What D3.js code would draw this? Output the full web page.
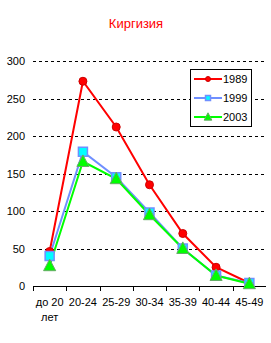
<!DOCTYPE html>
<html><head><meta charset="utf-8">
<script src="https://cdn.jsdelivr.net/npm/d3@7"></script>
<style>body{margin:0;background:#fff}svg{display:block}</style>
</head><body>
<script>
const categories = ["до 20 лет","20-24","25-29","30-34","35-39","40-44","45-49"];
const s1989 = [46, 273, 212, 135, 70, 25, 4];
const s1999 = [40, 179, 145, 98, 50, 14, 4];
const s2003 = [27, 166, 143, 95, 50, 14, 3];
const yTicks = [0, 50, 100, 150, 200, 250, 300];
const title = "Киргизия";

const W = 271, H = 343;
const svg = d3.select("body").append("svg").attr("width", W).attr("height", H);
const font = "Arial, 'Liberation Sans', sans-serif";

const x = d3.scaleBand().domain(categories).range([33, 266]);
const y = d3.scaleLinear().domain([0, 300]).range([286, 61]);

svg.append("text").attr("x", 136).attr("y", 28).attr("text-anchor", "middle")
  .attr("font-family", font).attr("font-size", 13).attr("fill", "#ff0000").text(title);

svg.append("g").selectAll("line").data(yTicks.filter(d => d > 0)).join("line")
  .attr("x1", 33).attr("x2", 266).attr("y1", d => Math.round(y(d)) + 0.5).attr("y2", d => Math.round(y(d)) + 0.5)
  .attr("stroke", "#000").attr("stroke-dasharray", "3,3").attr("stroke-width", 1);

svg.append("g").selectAll("text").data(yTicks).join("text")
  .attr("x", 25).attr("y", d => y(d) + 4).attr("text-anchor", "end")
  .attr("font-family", font).attr("font-size", 11).attr("fill", "#000").text(d => d);

const xa = svg.append("g");
xa.append("line").attr("x1", 33).attr("x2", 266).attr("y1", 286.5).attr("y2", 286.5).attr("stroke", "#000");
const edges = categories.map(c => x(c));
xa.selectAll("line.t").data(edges).join("line").attr("class", "t")
  .attr("x1", d => Math.round(d) + 0.5).attr("x2", d => Math.round(d) + 0.5)
  .attr("y1", 286).attr("y2", 291).attr("stroke", "#000");
xa.selectAll("text").data(categories).join("text")
  .attr("x", d => x(d) + x.bandwidth() / 2).attr("y", 306).attr("text-anchor", "middle")
  .attr("font-family", font).attr("font-size", 11).attr("fill", "#000")
  .each(function(d) {
    const parts = d === "до 20 лет" ? ["до 20", "лет"] : [d];
    const t = d3.select(this);
    parts.forEach((p, i) => t.append("tspan").attr("x", x(d) + x.bandwidth() / 2).attr("dy", i ? 15 : 0).text(p));
  });

const cx = (d, i) => x(categories[i]) + x.bandwidth() / 2;
const series = [
  {name: "1989", data: s1989, color: "#ff0000", mfill: "#ff0000", mstroke: "#cc0000", shape: "circle"},
  {name: "1999", data: s1999, color: "#6f8fff", mfill: "#00ffff", mstroke: "#6f8fff", shape: "square"},
  {name: "2003", data: s2003, color: "#00ff00", mfill: "#00ff00", mstroke: "#66aa66", shape: "triangle"}
];
const line = d3.line().x(cx).y(d => y(d));

function marker(g, shape, s, fill, stroke) {
  if (shape === "circle") g.append("circle").attr("r", s * 0.5).attr("fill", fill).attr("stroke", stroke);
  else if (shape === "square") g.append("rect").attr("x", -s/2).attr("y", -s/2).attr("width", s).attr("height", s).attr("fill", fill).attr("stroke", stroke).attr("stroke-width", 1.5);
  else g.append("path").attr("d", `M0,${-s*0.6}L${s*0.55},${s*0.45}L${-s*0.55},${s*0.45}Z`).attr("fill", fill).attr("stroke", stroke);
}

series.forEach(sr => {
  svg.append("path").datum(sr.data).attr("d", line).attr("fill", "none")
    .attr("stroke", sr.color).attr("stroke-width", 2);
});
series.forEach(sr => {
  const s = sr.shape === "circle" ? 8 : sr.shape === "square" ? 9 : 11;
  sr.data.forEach((d, i) => {
    const g = svg.append("g").attr("transform", `translate(${cx(d, i)},${y(d)})`);
    marker(g, sr.shape, s, sr.mfill, sr.mstroke);
  });
});

const lg = svg.append("g");
lg.append("rect").attr("x", 190.5).attr("y", 69.5).attr("width", 61).attr("height", 57)
  .attr("fill", "#fff").attr("stroke", "#000");
series.forEach((sr, i) => {
  const ly = 79 + i * 19;
  lg.append("line").attr("x1", 194).attr("x2", 222).attr("y1", ly).attr("y2", ly).attr("stroke", sr.color).attr("stroke-width", 2);
  const g = lg.append("g").attr("transform", `translate(208,${ly})`);
  marker(g, sr.shape, sr.shape === "triangle" ? 7 : 5, sr.mfill, sr.mstroke);
  lg.append("text").attr("x", 223).attr("y", ly + 4).attr("font-family", font).attr("font-size", 11).text(sr.name);
});
</script>
</body></html>
